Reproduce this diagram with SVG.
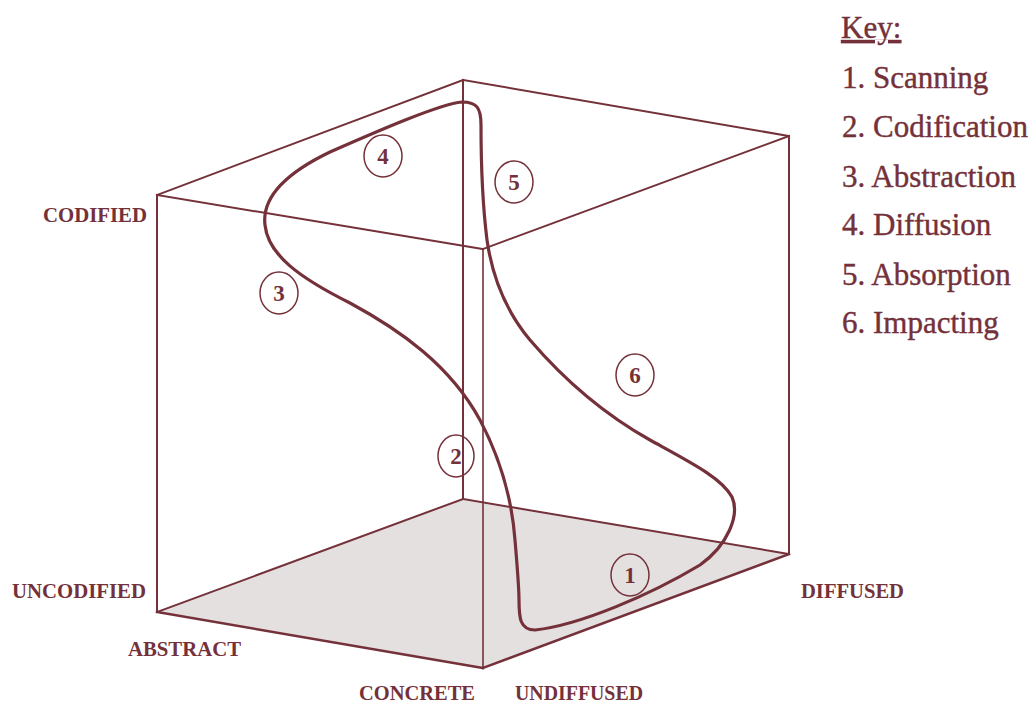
<svg xmlns="http://www.w3.org/2000/svg" width="1036" height="705" viewBox="0 0 1036 705">
<style>
.edge{stroke:#74313a;stroke-width:2;fill:none;stroke-linecap:square}
.curve{stroke:#74313a;stroke-width:3.2;fill:none}
.ring{stroke:#74313a;stroke-width:1.5;fill:none}
.num{font-family:"Liberation Serif",serif;font-size:23px;font-weight:bold;fill:#74313a;text-anchor:middle}
.axis{font-family:"Liberation Serif",serif;font-size:21.5px;font-weight:bold;fill:#74313a}
.key{font-family:"Liberation Serif",serif;font-size:31px;fill:#74313a;stroke:#74313a;stroke-width:0.4}
</style>
<rect width="1036" height="705" fill="#ffffff"/>
<g id="cube">
<polygon points="463,499 789,554 483,668 157,612" fill="#e4e0e0" stroke="none"/>
<line class="edge" x1="463" y1="80" x2="157" y2="195"/>
<line class="edge" x1="463" y1="80" x2="789" y2="136"/>
<line class="edge" x1="157" y1="195" x2="483" y2="249"/>
<line class="edge" x1="789" y1="136" x2="483" y2="249"/>
<line class="edge" x1="463" y1="80" x2="463" y2="499"/>
<line class="edge" x1="157" y1="195" x2="157" y2="612"/>
<line class="edge" x1="789" y1="136" x2="789" y2="554"/>
<line class="edge" x1="483" y1="249" x2="483" y2="668" style="stroke-width:1.6"/>
<line class="edge" x1="463" y1="499" x2="157" y2="612"/>
<line class="edge" x1="463" y1="499" x2="789" y2="554"/>
<line class="edge" x1="157" y1="612" x2="483" y2="668" style="stroke-width:2.5"/>
<line class="edge" x1="789" y1="554" x2="483" y2="668" style="stroke-width:2.5"/>
</g>
<g id="connectors">
<path class="curve" d="M519,600 C519,618 520,630 535,630 C580,625 650,595 700,565 C728,545 740,515 732,497 C722,478 690,462 650,440 C600,412 560,375 530,340 C505,310 492,275 487,240 C482,200 481,150 481,125 C481,108 477,102 462,102 C440,104 380,130 330,152 C280,176 262,200 265,225 C268,255 300,278 350,303 C400,330 450,365 480,420 C500,458 512,500 515,540 C518,575 519,590 519,600 Z"/>
</g>
<g id="step1"><ellipse class="ring" cx="630" cy="575" rx="19" ry="21"/><text class="num" x="630" y="583">1</text></g>
<g id="step2"><ellipse class="ring" cx="456" cy="456" rx="18" ry="21"/><text class="num" x="456" y="464">2</text></g>
<g id="step3"><ellipse class="ring" cx="279" cy="293" rx="19" ry="21"/><text class="num" x="279" y="301">3</text></g>
<g id="step4"><ellipse class="ring" cx="383" cy="156" rx="19" ry="21"/><text class="num" x="383" y="164">4</text></g>
<g id="step5"><ellipse class="ring" cx="514" cy="182" rx="19" ry="21"/><text class="num" x="514" y="190">5</text></g>
<g id="step6"><ellipse class="ring" cx="635" cy="375" rx="19" ry="21"/><text class="num" x="635" y="383">6</text></g>
<g id="axis-labels">
<text class="axis" x="43" y="222" textLength="104" lengthAdjust="spacingAndGlyphs">CODIFIED</text>
<text class="axis" x="12" y="598" textLength="134" lengthAdjust="spacingAndGlyphs">UNCODIFIED</text>
<text class="axis" x="128" y="656" textLength="113" lengthAdjust="spacingAndGlyphs">ABSTRACT</text>
<text class="axis" x="359" y="700" textLength="116" lengthAdjust="spacingAndGlyphs">CONCRETE</text>
<text class="axis" x="515" y="700" textLength="128" lengthAdjust="spacingAndGlyphs">UNDIFFUSED</text>
<text class="axis" x="801" y="598" textLength="103" lengthAdjust="spacingAndGlyphs">DIFFUSED</text>
</g>
<g id="key">
<text class="key" x="841" y="38" text-decoration="underline">Key:</text>
<text class="key" x="842" y="88">1. Scanning</text>
<text class="key" x="842" y="137">2. Codification</text>
<text class="key" x="842" y="187">3. Abstraction</text>
<text class="key" x="842" y="235">4. Diffusion</text>
<text class="key" x="842" y="285">5. Absorption</text>
<text class="key" x="842" y="333">6. Impacting</text>
</g>
</svg>
